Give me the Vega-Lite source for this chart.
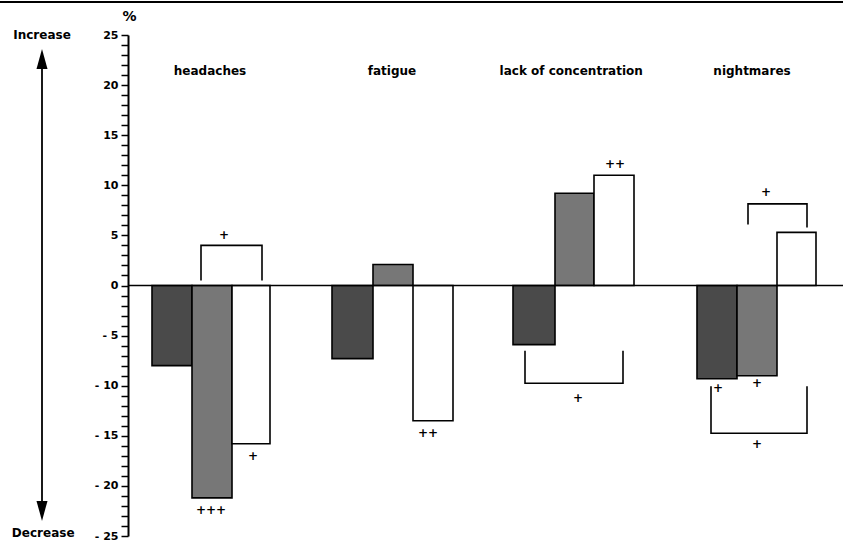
{
  "$schema": "https://vega.github.io/schema/vega-lite/v6.json",
  "width": 715,
  "height": 501,
  "autosize": {"type": "none"},
  "padding": {"left": 128, "top": 35, "right": 0, "bottom": 6},
  "background": "white",
  "config": {
    "view": {"stroke": null},
    "font": "DejaVu Sans",
    "text": {"font": "DejaVu Sans", "fontWeight": "bold", "fontSize": 12}
  },
  "datasets": {
    "bars": [
      {"group": "headaches", "series": "A", "x": 0.6, "x2": 1.6, "y": -8.0},
      {"group": "headaches", "series": "B", "x": 1.6, "x2": 2.6, "y": -21.2},
      {"group": "headaches", "series": "C", "x": 2.6, "x2": 3.55, "y": -15.8},
      {"group": "fatigue", "series": "A", "x": 5.1, "x2": 6.125, "y": -7.3},
      {"group": "fatigue", "series": "B", "x": 6.125, "x2": 7.125, "y": 2.1},
      {"group": "fatigue", "series": "C", "x": 7.125, "x2": 8.125, "y": -13.5},
      {"group": "lack of concentration", "series": "A", "x": 9.625, "x2": 10.675, "y": -5.9},
      {"group": "lack of concentration", "series": "B", "x": 10.675, "x2": 11.65, "y": 9.2},
      {"group": "lack of concentration", "series": "C", "x": 11.65, "x2": 12.65, "y": 11.0},
      {"group": "nightmares", "series": "A", "x": 14.225, "x2": 15.225, "y": -9.3},
      {"group": "nightmares", "series": "B", "x": 15.225, "x2": 16.225, "y": -9.0},
      {"group": "nightmares", "series": "C", "x": 16.225, "x2": 17.2, "y": 5.3}
    ],
    "rules": [
      {"name": "zero", "w": "a", "x": 0, "x2": 17.875, "y": 0, "y2": 0},
      {"name": "arrow", "w": "b", "x": -2.15, "x2": -2.15, "y": 22, "y2": -22},
      {"name": "top", "w": "c", "x": -3.2, "x2": 17.875, "y": 28.3, "y2": 28.3}
    ],
    "brackets": [
      {"b": 1, "o": 1, "x": 1.825, "y": 0.5},
      {"b": 1, "o": 2, "x": 1.825, "y": 4.0},
      {"b": 1, "o": 3, "x": 3.35, "y": 4.0},
      {"b": 1, "o": 4, "x": 3.35, "y": 0.5},
      {"b": 2, "o": 1, "x": 9.925, "y": -6.5},
      {"b": 2, "o": 2, "x": 9.925, "y": -9.75},
      {"b": 2, "o": 3, "x": 12.375, "y": -9.75},
      {"b": 2, "o": 4, "x": 12.375, "y": -6.5},
      {"b": 3, "o": 1, "x": 15.5, "y": 6.1},
      {"b": 3, "o": 2, "x": 15.5, "y": 8.15},
      {"b": 3, "o": 3, "x": 16.975, "y": 8.15},
      {"b": 3, "o": 4, "x": 16.975, "y": 5.8},
      {"b": 4, "o": 1, "x": 14.575, "y": -10.05},
      {"b": 4, "o": 2, "x": 14.575, "y": -14.75},
      {"b": 4, "o": 3, "x": 16.975, "y": -14.75},
      {"b": 4, "o": 4, "x": 16.975, "y": -10.05}
    ],
    "texts": [
      {"label": "headaches", "x": 2.05, "y": 21.4},
      {"label": "fatigue", "x": 6.6, "y": 21.4},
      {"label": "lack of concentration", "x": 11.08, "y": 21.4},
      {"label": "nightmares", "x": 15.6, "y": 21.4},
      {"label": "+", "x": 2.4, "y": 5.0},
      {"label": "+", "x": 3.125, "y": -17.0},
      {"label": "+++", "x": 2.075, "y": -22.4},
      {"label": "++", "x": 7.5, "y": -14.7},
      {"label": "++", "x": 12.175, "y": 12.15},
      {"label": "+", "x": 11.25, "y": -11.25},
      {"label": "+", "x": 15.95, "y": 9.35},
      {"label": "+", "x": 14.75, "y": -10.25},
      {"label": "+", "x": 15.725, "y": -9.75},
      {"label": "+", "x": 15.725, "y": -15.85},
      {"label": "Increase", "x": -2.15, "y": 25},
      {"label": "Decrease", "x": -2.12, "y": -24.75}
    ],
    "heads": [
      {"dir": "up", "x": -2.15, "y": 22.6},
      {"dir": "down", "x": -2.15, "y": -22.5}
    ]
  },
  "encoding": {
    "x": {"field": "x", "type": "quantitative", "scale": {"domain": [0, 17.875], "nice": false, "zero": false}, "axis": null},
    "y": {
      "field": "y", "type": "quantitative",
      "scale": {"domain": [-25, 25], "nice": false, "zero": false},
      "axis": {
        "title": "%", "titleAngle": 0, "titleX": 1, "titleY": -12, "titleAlign": "center", "titleBaseline": "bottom",
        "titleFont": "DejaVu Sans", "titleFontWeight": "bold", "titleFontSize": 14, "titleColor": "black",
        "values": [-25,-24,-23,-22,-21,-20,-19,-18,-17,-16,-15,-14,-13,-12,-11,-10,-9,-8,-7,-6,-5,-4,-3,-2,-1,0,1,2,3,4,5,6,7,8,9,10,11,12,13,14,15,16,17,18,19,20,21,22,23,24,25],
        "labelExpr": "datum.value % 5 === 0 ? (datum.value < 0 ? '- ' + (-datum.value) : '' + datum.value) : ''",
        "labelFont": "DejaVu Sans", "labelFontWeight": "bold", "labelFontSize": 11, "labelColor": "black",
        "labelPadding": 3, "labelOverlap": false, "labelBound": false,
        "domainColor": "black", "domainWidth": 2,
        "tickColor": "black", "tickWidth": 1.5, "tickSize": 7,
        "grid": false
      }
    }
  },
  "layer": [
    {
      "data": {"name": "bars"},
      "mark": {"type": "rect", "stroke": "black", "strokeWidth": 1.6},
      "encoding": {
        "x2": {"field": "x2"},
        "y2": {"datum": 0},
        "fill": {"field": "series", "type": "nominal", "scale": {"domain": ["A", "B", "C"], "range": ["#4a4a4a", "#777777", "#ffffff"]}, "legend": null}
      }
    },
    {
      "data": {"name": "rules"},
      "mark": {"type": "rule", "color": "black"},
      "encoding": {
        "x2": {"field": "x2"},
        "y2": {"field": "y2"},
        "strokeWidth": {"field": "w", "type": "nominal", "scale": {"domain": ["a", "b", "c"], "range": [1.6, 2, 1.2]}, "legend": null}
      }
    },
    {
      "data": {"name": "brackets"},
      "mark": {"type": "line", "color": "black", "strokeWidth": 1.6},
      "encoding": {
        "detail": {"field": "b", "type": "nominal"},
        "order": {"field": "o", "type": "quantitative"}
      }
    },
    {
      "data": {"name": "texts"},
      "mark": {"type": "text", "color": "black", "baseline": "middle", "align": "center"},
      "encoding": {
        "text": {"field": "label", "type": "nominal"}
      }
    },
    {
      "data": {"name": "heads"},
      "mark": {"type": "point", "filled": true, "color": "black", "opacity": 1, "size": 400},
      "encoding": {
        "shape": {"field": "dir", "type": "nominal", "scale": {"domain": ["up", "down"], "range": ["M0,-1L0.55,1L-0.55,1Z", "M0,1L0.55,-1L-0.55,-1Z"]}, "legend": null}
      }
    }
  ]
}
